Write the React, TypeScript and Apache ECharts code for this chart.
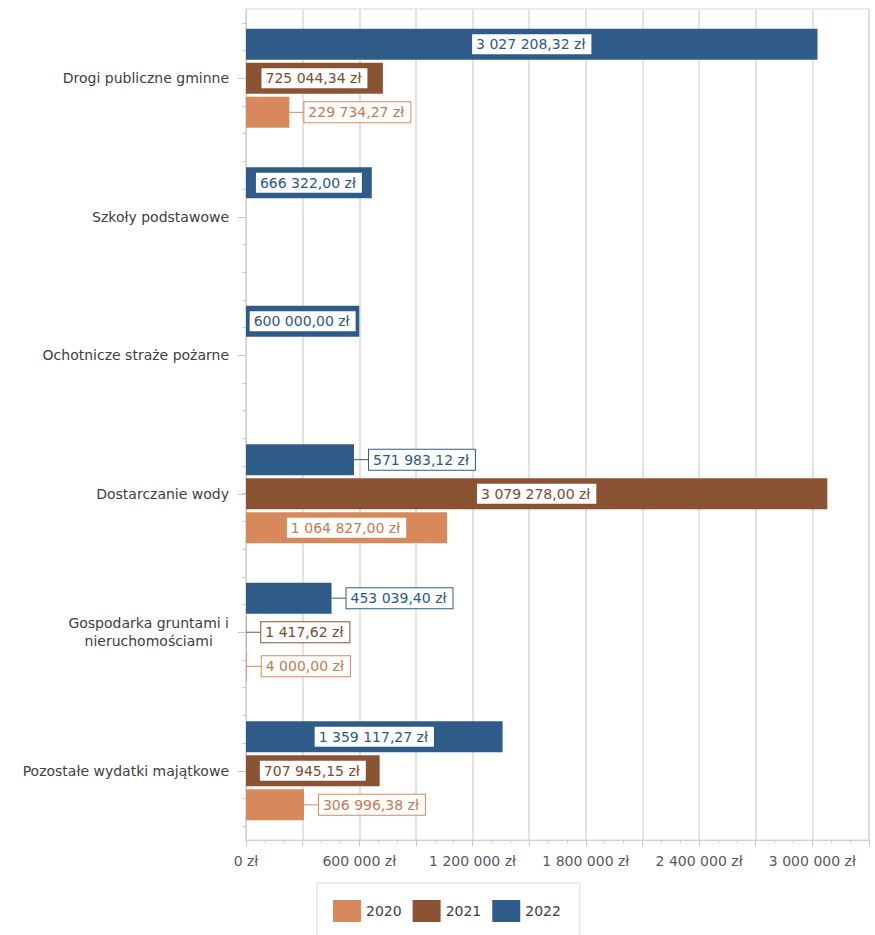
import React, { useEffect, useRef } from "react";
import * as echarts from "echarts";

const categories = [
  "Drogi publiczne gminne",
  "Szkoły podstawowe",
  "Ochotnicze straże pożarne",
  "Dostarczanie wody",
  "Gospodarka gruntami i\nnieruchomościami",
  "Pozostałe wydatki majątkowe",
];
const years = ["2020", "2021", "2022"];
const values2020 = [229734.27, 0, 0, 1064827.0, 4000.0, 306996.38];
const values2021 = [725044.34, 0, 0, 3079278.0, 1417.62, 707945.15];
const values2022 = [3027208.32, 666322.0, 600000.0, 571983.12, 453039.4, 1359117.27];
const xTickLabels = [0, 600000, 1200000, 1800000, 2400000, 3000000];
const X_MAX = 3300000;
const X_STEP = 300000;
const LABEL_INSIDE_MIN = 590000;

const colors: Record<string, string> = {
  "2020": "#D8895C",
  "2021": "#8A5334",
  "2022": "#2E5B88",
};
const textColors: Record<string, string> = {
  "2020": "#C47A50",
  "2021": "#7E4A2E",
  "2022": "#2C5784",
};

const FONT = "DejaVu Sans";

function groupInt(s: string): string {
  const out: string[] = [];
  for (let i = s.length; i > 0; i -= 3) out.unshift(s.substring(Math.max(0, i - 3), i));
  return out.join(" ");
}
function fmtPLN(v: number, dec: number): string {
  const fixed = v.toFixed(dec);
  const [ip, dp] = fixed.split(".");
  return groupInt(ip) + (dp ? "," + dp : "") + " zł";
}

function makeSeries(year: string, values: number[]) {
  const color = colors[year];
  const tcolor = textColors[year];
  const boxStyle = {
    color: tcolor,
    backgroundColor: "#ffffff",
    borderColor: color,
    borderWidth: 1,
    padding: [3, 6, 3, 4],
    fontSize: 14,
    lineHeight: 16,
    fontFamily: FONT,
  };
  const data = values.map((v) => {
    if (!v) return { value: 0, label: { show: false } };
    const inside = v >= LABEL_INSIDE_MIN;
    return {
      value: v,
      label: inside
        ? {
            show: true,
            position: "inside",
            formatter: "{b|" + fmtPLN(v, 2) + "}",
            rich: { b: boxStyle },
          }
        : {
            show: true,
            position: "right",
            distance: 0,
            formatter: "{l|}{b|" + fmtPLN(v, 2) + "}",
            rich: {
              l: { width: 15, height: 1, backgroundColor: color },
              b: boxStyle,
            },
          },
    };
  });
  return {
    name: year,
    type: "bar",
    barWidth: 31,
    barGap: "10%",
    itemStyle: { color },
    data,
  };
}

export default function App() {
  const ref = useRef<HTMLDivElement>(null);
  useEffect(() => {
    document.body.style.margin = "0";
    if (!ref.current) return;
    const chart = echarts.init(ref.current, undefined, { renderer: "svg" });
    const subTicks: string[] = [];
    for (let i = 0; i < categories.length * 5; i++) subTicks.push(String(i));
    chart.setOption({
      animation: false,
      textStyle: { fontFamily: FONT },
      grid: {
        left: 246,
        right: 6,
        top: 9,
        bottom: 95,
        show: true,
        borderColor: "#d9d9d9",
        borderWidth: 1,
      },
      legend: {
        data: years,
        left: 317,
        top: 883,
        itemWidth: 28,
        itemHeight: 22,
        itemGap: 11,
        icon: "rect",
        padding: [17, 19, 17, 16],
        borderColor: "#d9d9d9",
        borderWidth: 1,
        textStyle: { fontSize: 14, color: "#404040", fontFamily: FONT },
      },
      xAxis: {
        type: "value",
        min: 0,
        max: X_MAX,
        interval: X_STEP,
        axisLine: { show: true, lineStyle: { color: "#d0d0d0" } },
        axisTick: { show: true, length: 6, lineStyle: { color: "#c8c8c8" } },
        minorTick: { show: true, splitNumber: 3, length: 3, lineStyle: { color: "#c8c8c8" } },
        splitLine: { show: true, lineStyle: { color: "#d9d9d9", width: 1.5 } },
        axisLabel: {
          margin: 14,
          fontSize: 14,
          color: "#595959",
          fontFamily: FONT,
          formatter: (v: number) => (xTickLabels.indexOf(v) >= 0 ? fmtPLN(v, 0) : ""),
        },
      },
      yAxis: [
        {
          type: "category",
          data: categories,
          inverse: true,
          axisLine: { show: true, lineStyle: { color: "#d0d0d0" } },
          axisTick: { show: true, alignWithLabel: true, length: 8, lineStyle: { color: "#c8c8c8" } },
          axisLabel: {
            margin: 17,
            fontSize: 14,
            color: "#404040",
            fontFamily: FONT,
            lineHeight: 18,
            formatter: (v: string) =>
              v
                .split("\n")
                .map((s) => "{c|" + s + "}")
                .join("\n"),
            rich: { c: { align: "center", fontSize: 14, lineHeight: 18, color: "#404040", fontFamily: FONT } },
          },
        },
        {
          type: "category",
          data: subTicks,
          inverse: true,
          position: "left",
          axisLine: { show: false },
          axisTick: { show: true, alignWithLabel: true, length: 4, lineStyle: { color: "#c8c8c8" } },
          axisLabel: { show: false },
          splitLine: { show: false },
        },
      ],
      series: [
        makeSeries("2022", values2022),
        makeSeries("2021", values2021),
        makeSeries("2020", values2020),
      ],
    });
    return () => chart.dispose();
  }, []);
  return <div ref={ref} style={{ width: 875, height: 935 }} />;
}
